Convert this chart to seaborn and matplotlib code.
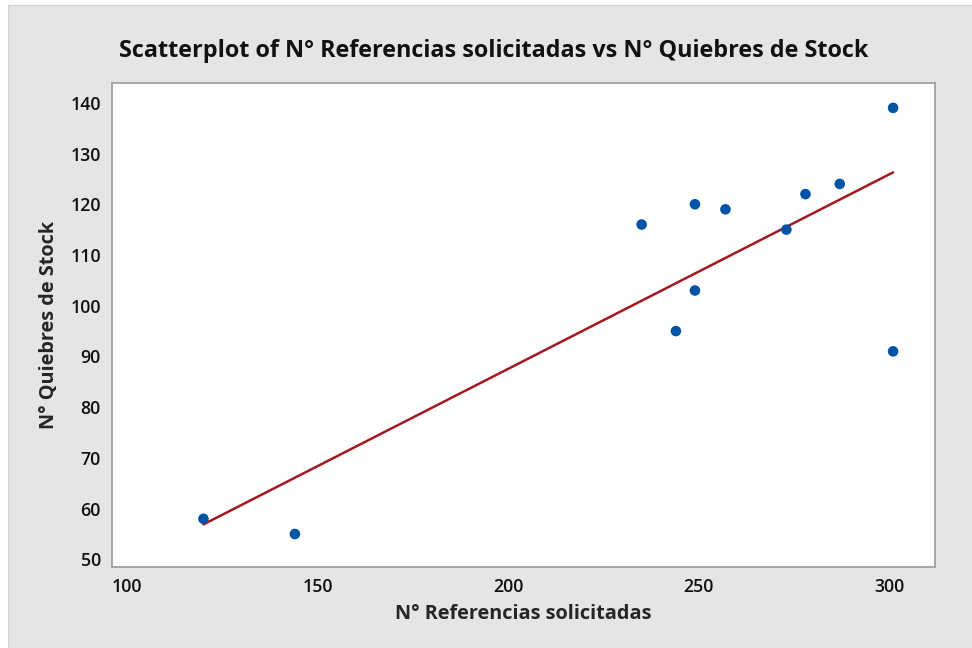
import numpy as np
import pandas as pd
import matplotlib.pyplot as plt
import seaborn as sns
from matplotlib.patches import Rectangle

referencias = [120, 144, 235, 244, 249, 249, 257, 273, 278, 287, 301, 301]
quiebres = [58, 55, 116, 95, 120, 103, 119, 115, 122, 124, 139, 91]
x_ticks = [100, 150, 200, 250, 300]
y_ticks = [50, 60, 70, 80, 90, 100, 110, 120, 130, 140]

df = pd.DataFrame({"ref": referencias, "quie": quiebres})

sns.set_style("white")
plt.rcParams["font.family"] = ["Open Sans", "DejaVu Sans"]

bg = "#e5e5e5"
spine_col = "#a0a0a0"

fig = plt.figure(figsize=(9.72, 6.48), dpi=100, facecolor="white")
# grey panel with a thin white margin on the top and left (screenshot look)
fig.patches.append(Rectangle((8 / 972, 0), 1, 1 - 5 / 648, transform=fig.transFigure,
                             facecolor=bg, edgecolor="#d2d2d2", linewidth=0.8, zorder=-10))

ax = fig.add_axes([112 / 972, 1 - 567 / 648, (935 - 112) / 972, (567 - 83) / 648])
ax.set_facecolor("white")

sns.regplot(data=df, x="ref", y="quie", ax=ax, ci=None,
            scatter_kws={"s": 58, "color": "#0054a6", "edgecolor": "none", "alpha": 1, "zorder": 3},
            line_kws={"color": "#a2191f", "linewidth": 1.8, "zorder": 2})

ax.set_xlim(96, 312)
ax.set_ylim(48.5, 143.9)
ax.set_xticks(x_ticks)
ax.set_yticks(y_ticks)

for s in ax.spines.values():
    s.set_color(spine_col)
    s.set_linewidth(1.3)

ax.tick_params(axis="both", direction="out", length=5, width=1, color=spine_col,
               labelsize=12.8, labelcolor="#111111", pad=3)
for lab in ax.get_xticklabels() + ax.get_yticklabels():
    lab.set_fontweight("semibold")

ax.set_xlabel("N° Referencias solicitadas", fontsize=14.3, fontweight="bold", labelpad=6)
ax.set_ylabel("N° Quiebres de Stock", fontsize=14.3, fontweight="bold", labelpad=8)
fig.text(494 / 972, 1 - 51 / 648, "Scatterplot of N° Referencias solicitadas vs N° Quiebres de Stock",
         ha="center", va="center", fontsize=16.8, fontweight="bold", color="#111111")

fig.savefig("out.png", dpi=100, facecolor=fig.get_facecolor())
